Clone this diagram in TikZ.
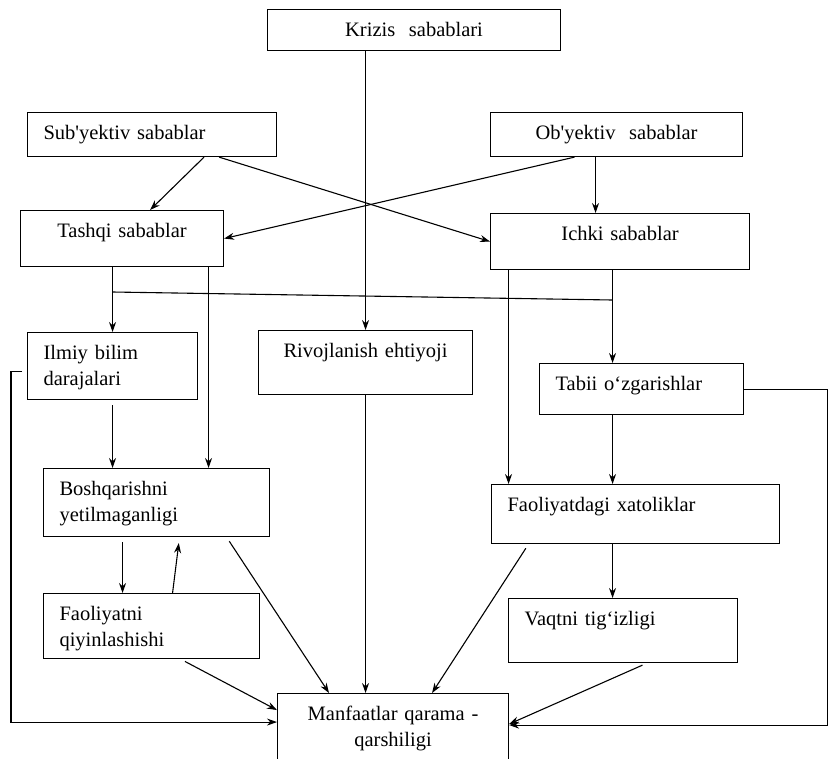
\documentclass[tikz,border=0pt]{standalone}
\usepackage{fontspec}
\setmainfont{Liberation Serif}
\usetikzlibrary{arrows.meta}

\begin{document}
\begin{tikzpicture}[x=1pt, y=-1pt, line width=1.1pt, >={Stealth[length=10pt,width=7pt]},
    box/.style={draw, anchor=north west, inner xsep=16pt, inner ysep=0pt, text height=27pt,
      font=\fontsize{20.5}{26}\selectfont},
    gap/.style={shorten <=5pt}]
    \useasboundingbox (0,0) rectangle (829,758);
    % krizis sabablari
    \node[box, text width=261pt, text depth=14pt, align=center] (krizis) at (267,9) {Krizis\ \ sabablari};
    % subyektiv and obyektiv
    \node[box, text width=217pt, text depth=17pt, align=left] (sub) at (27,112) {Sub\textquotesingle yektiv sabablar};
    \node[box, text width=220pt, text depth=17pt, align=center] (ob) at (490,112) {Ob\textquotesingle yektiv\ \ sabablar};
    % tashqi and ichki
    \node[box, text width=171pt, text depth=29pt, align=center] (tashqi) at (20,210) {Tashqi sabablar};
    \node[box, text width=227pt, text depth=29pt, align=center] (ichki) at (490,213) {Ichki sabablar};
    % middle row
    \node[box, text width=138pt, text depth=40pt, align=left] (ilmiy) at (27,332) {Ilmiy bilim\\darajalari};
    \node[box, text width=182pt, text depth=37pt, align=center] (rivoj) at (258,330) {Rivojlanish ehtiyoji};
    \node[box, text width=172pt, text depth=24pt, align=left] (tabii) at (539,363) {Tabii o‘zgarishlar};
    \node[box, text width=194pt, text depth=41pt, align=left] (bosh) at (43,468) {Boshqarishni\\yetilmaganligi};
    \node[box, text width=256pt, text depth=32pt, align=left] (fdx) at (491,484) {Faoliyatdagi xatoliklar};
    \node[box, text width=184pt, text depth=38pt, align=left] (faol) at (43,593) {Faoliyatni\\qiyinlashishi};
    \node[box, text width=197pt, text depth=37pt, align=left] (vaqt) at (508,598) {Vaqtni tig‘izligi};
    % manfaatlar
    \node[box, text width=199pt, text depth=50pt, align=center] (manf) at (277,693) {Manfaatlar qarama -\\qarshiligi};

    % top arrows
    \draw[->] (rivoj.north |- krizis.south) -- (rivoj.north);
    \draw[->] ([xshift=52pt]sub.south) -- ([xshift=28pt]tashqi.north);
    \draw[->] ([xshift=67pt]sub.south) -- (ichki.west);
    \draw[->] ([xshift=-42pt]ob.south) -- (tashqi.east);
    \draw[->] ([xshift=-21pt]ob.south) -- ([xshift=-21pt]ob.south |- ichki.north);
    % tashqi sabablar
    \draw[->] (ilmiy.north |- tashqi.south) -- (ilmiy.north);
    \draw[->] ([xshift=52pt]bosh.north |- tashqi.south) -- ([xshift=52pt]bosh.north);
    \coordinate (joinL) at (ilmiy.north |- 0,292);
    \coordinate (joinR) at ([xshift=-29pt]tabii.north |- 0,300);
    \draw (joinL) -- (joinR);
    % ichki sabablar
    \draw[->] ([xshift=-127pt]fdx.north |- ichki.south) -- ([xshift=-127pt]fdx.north);
    \draw[->] ([xshift=-29pt]tabii.north |- ichki.south) -- ([xshift=-29pt]tabii.north);
    \draw[->] ([xshift=-29pt]tabii.south) -- ([xshift=-29pt]tabii.south |- fdx.north);
    \draw[->] ([xshift=-23pt]fdx.south) -- ([xshift=-23pt]fdx.south |- vaqt.north);
    \draw[->] (tabii.east) -- ++(83,0) |- ([yshift=7pt]manf.east);
    % ilmiy bilim
    \draw[->] ([shift={(-5pt,-5pt)}]ilmiy.west) -- ++(-11,0) |- ([yshift=10pt]manf.west);
    \draw[->, gap] (ilmiy.south) -- (ilmiy.south |- bosh.north);
    % boshqarishni and faoliyatni
    \draw[->, gap] ([xshift=-34pt]bosh.south) -- ([xshift=-34pt]bosh.south |- faol.north);
    \draw[->, shorten >=6pt] ([xshift=21pt]faol.north) -- ([xshift=23pt]bosh.south);
    % into manfaatlar
    \draw[->, gap] ([xshift=70pt]bosh.south) -- ([xshift=-64pt]manf.north);
    \draw[->] (rivoj.south) -- (rivoj.south |- manf.north);
    \draw[->, gap] ([xshift=29pt]faol.south) -- ([yshift=22pt]manf.west);
    \draw[->, gap] ([xshift=-107pt]fdx.south) -- ([xshift=39pt]manf.north);
    \draw[->, gap] ([xshift=24pt]vaqt.south) -- ([yshift=8pt]manf.east);
\end{tikzpicture}
\end{document}
